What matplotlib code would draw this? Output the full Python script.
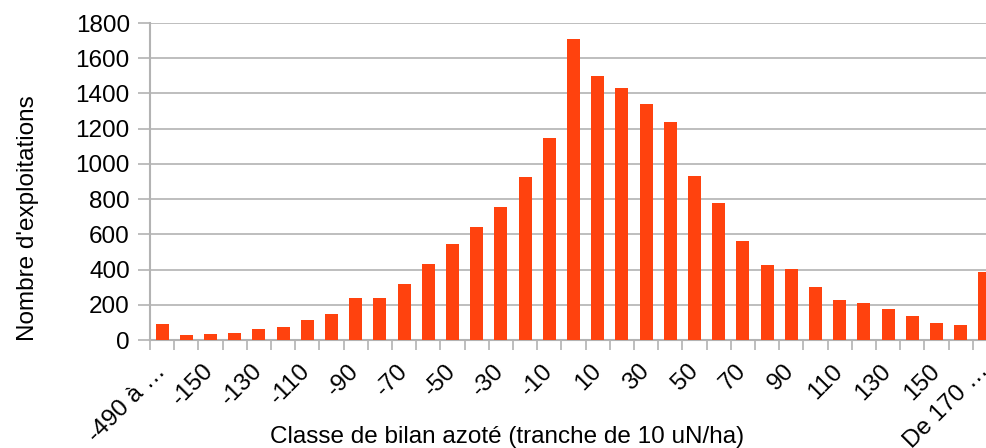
import numpy as np
import matplotlib
matplotlib.use('Agg')
from matplotlib import pyplot as plt

BAR_COLOR = '#ff420e'
GRID_COLOR = '#b3b3b3'

# nitrogen balance classes (10 uN/ha wide), first and last are open-ended
classes = ['-490 à …'] + [str(v) for v in range(-160, 170, 10)] + ['De 170 …']
counts = [91, 28, 34, 40, 62, 74, 114, 148, 239, 239, 318, 432,
          545, 642, 755, 926, 1147, 1709, 1499, 1431, 1340, 1238,
          931, 778, 562, 426, 403, 301, 227, 210, 176, 136, 97, 85, 386]
yticks = [0, 200, 400, 600, 800, 1000, 1200, 1400, 1600, 1800]

plt.rcParams['font.family'] = ['Liberation Sans', 'DejaVu Sans']
plt.rcParams['font.size'] = 17.5

W, H = 987, 448
fig = plt.figure(figsize=(W / 100, H / 100), dpi=100)
# plot area runs a little past the right edge of the figure
slot = 24.2
left, right = 150, 150 + slot * len(classes)
bottom, top = 340, 23
ax = fig.add_axes([left / W, (H - bottom) / H, (right - left) / W, (bottom - top) / H])

x = np.arange(len(classes))
ax.bar(x, counts, width=0.54, color=BAR_COLOR, zorder=3)

ax.set_xlim(-0.5, len(classes) - 0.5)
ax.set_ylim(0, 1800)
ax.set_yticks(yticks)
ax.yaxis.grid(True, color=GRID_COLOR, linewidth=1.2, zorder=0)
ax.set_axisbelow(True)

for side in ('top', 'right'):
    ax.spines[side].set_visible(False)
for side in ('left', 'bottom'):
    ax.spines[side].set_color(GRID_COLOR)
    ax.spines[side].set_linewidth(1.5)

ax.tick_params(axis='y', length=8.5, width=1.2, color=GRID_COLOR, pad=6, labelsize=17.5)
# boundaries between classes get the tick marks, labels sit on every other bar
ax.set_xticks(np.arange(-0.5, len(classes), 1), minor=True)
ax.set_xticks(x[::2])
ax.set_xticklabels(classes[::2], rotation=45, ha='right', va='center',
                   rotation_mode='anchor')
ax.tick_params(axis='x', which='minor', length=7, width=1.2, color=GRID_COLOR)
ax.tick_params(axis='x', which='major', length=0, pad=20, labelsize=17.5)

fig.text(28 / W, 1 - 218 / H, "Nombre d'exploitations", rotation=90,
         ha='center', va='center', fontsize=17.5)
fig.text(507 / W, 1 - 437 / H, 'Classe de bilan azoté (tranche de 10 uN/ha)',
         ha='center', va='center', fontsize=17.5)

fig.savefig('out.png', dpi=100)
plt.close(fig)
